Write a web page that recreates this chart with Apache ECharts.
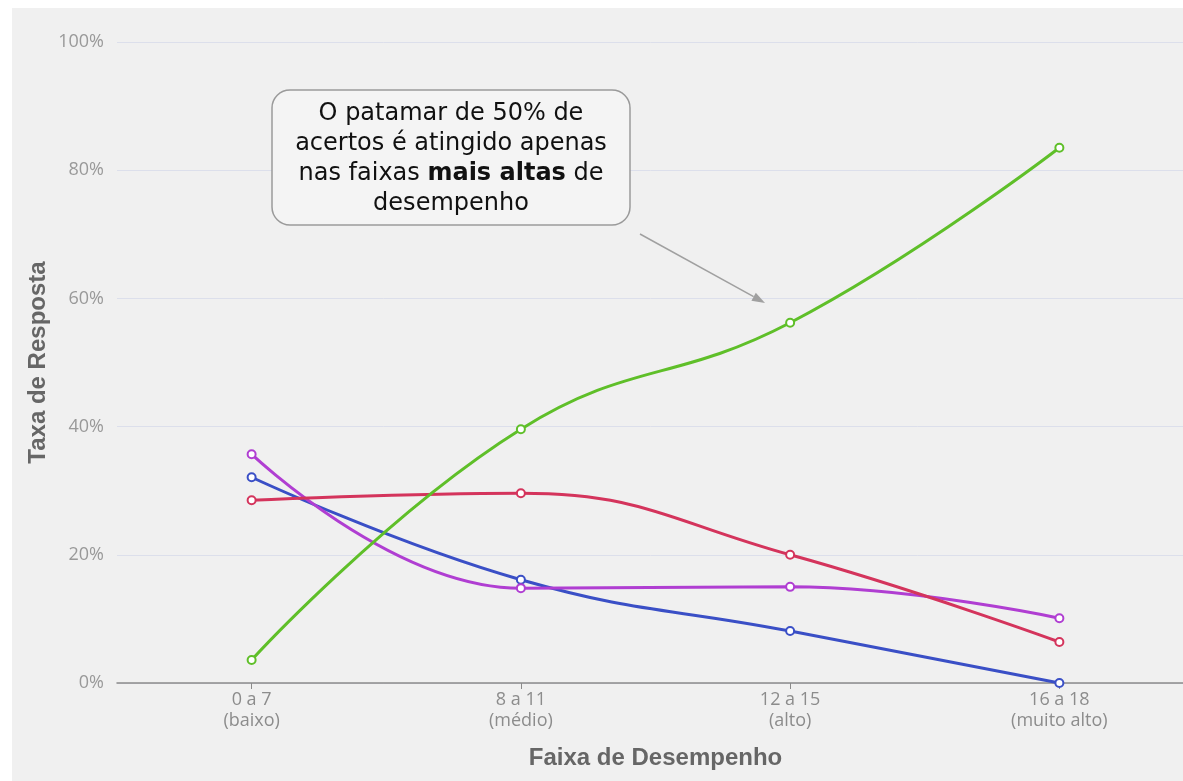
<!DOCTYPE html>
<html>
<head>
<meta charset="utf-8">
<script src="https://cdn.jsdelivr.net/npm/echarts@6/dist/echarts.min.js"></script>
<style>
  html, body { margin: 0; padding: 0; background: #ffffff; }
  #chart { position: absolute; left: 12px; top: 8px; width: 1171px; height: 773px; background: #f0f0f0; }
</style>
</head>
<body>
<div id="chart"></div>
<script>
// Faixas de desempenho (eixo X)
const categories = ['0 a 7\n(baixo)', '8 a 11\n(médio)', '12 a 15\n(alto)', '16 a 18\n(muito alto)'];

// Taxa de resposta por alternativa (%)
const serieVerde = [3.6, 39.6, 56.2, 83.5];
const serieVermelha = [28.5, 29.6, 20.0, 6.4];
const serieAzul = [32.1, 16.1, 8.1, 0.0];
const serieRoxa = [35.7, 14.8, 15.0, 10.1];

// Marcas do eixo Y
const yTicks = [0, 20, 40, 60, 80, 100];

const yTitle = 'Taxa de Resposta';
const xTitle = 'Faixa de Desempenho';

const chart = echarts.init(document.getElementById('chart'), null, { renderer: 'canvas' });

function lineSeries(data, color) {
  return {
    type: 'line',
    data: data,
    smooth: 0.45,
    symbol: 'emptyCircle',
    symbolSize: 8,
    lineStyle: { color: color, width: 3 },
    itemStyle: { color: color, borderWidth: 2.2 },
    emphasis: { disabled: true },
    z: 3
  };
}

// Caixa de anotação e seta
const box = { x: 260, y: 82, w: 358, h: 135 };
const arrowFrom = [628, 226];
const arrowTo = [753, 295];
const dx = arrowTo[0] - arrowFrom[0], dy = arrowTo[1] - arrowFrom[1];
const len = Math.sqrt(dx * dx + dy * dy);
const ux = dx / len, uy = dy / len;
const headL = 13, headW = 4.5;
const bx = arrowTo[0] - ux * headL, by = arrowTo[1] - uy * headL;
const head = [
  [arrowTo[0], arrowTo[1]],
  [bx - uy * headW, by + ux * headW],
  [bx + uy * headW, by - ux * headW]
];

const labelFont = '"Open Sans", "Noto Sans", sans-serif';
const titleFont = '"Liberation Sans", Arial, sans-serif';

chart.setOption({
  animation: false,
  backgroundColor: 'transparent',
  grid: { left: 105, width: 1077, top: 34, bottom: 98, containLabel: false, outerBoundsMode: 'none' },
  xAxis: {
    type: 'category',
    data: categories,
    boundaryGap: true,
    name: xTitle,
    nameLocation: 'middle',
    nameGap: 63,
    nameTextStyle: { color: '#666666', fontSize: 24, fontWeight: 'bold', fontFamily: titleFont },
    axisLine: { show: true, lineStyle: { color: '#8a8a8a', width: 1.5 } },
    axisTick: { show: true, alignWithLabel: true, length: 6, lineStyle: { color: '#8a8a8a' } },
    axisLabel: { color: '#8c8c8c', fontSize: 18, lineHeight: 21, margin: 6, fontFamily: labelFont },
    splitLine: { show: false }
  },
  yAxis: {
    type: 'value',
    min: 0,
    max: 100,
    interval: 20,
    name: yTitle,
    nameLocation: 'middle',
    nameGap: 67,
    nameMoveOverlap: false,
    nameRotate: 90,
    nameTextStyle: { color: '#666666', fontSize: 24, fontWeight: 'bold', fontFamily: titleFont },
    axisLine: { show: false },
    axisTick: { show: false },
    axisLabel: {
      color: '#999999', fontSize: 18, margin: 13, fontFamily: labelFont,
      formatter: function (v) { return yTicks.indexOf(v) >= 0 ? v + '%' : ''; }
    },
    splitLine: { show: true, lineStyle: { color: '#dcdfeb', width: 1 } }
  },
  series: [
    lineSeries(serieAzul, '#3a4fc6'),
    lineSeries(serieRoxa, '#b03ed2'),
    lineSeries(serieVermelha, '#d4345c'),
    lineSeries(serieVerde, '#5fbf29')
  ],
  graphic: [
    {
      type: 'rect',
      shape: { x: box.x, y: box.y, width: box.w, height: box.h, r: 18 },
      style: { fill: '#f4f4f4', stroke: '#9a9a9a', lineWidth: 1.5 },
      z: 10
    },
    {
      type: 'text',
      x: box.x + box.w / 2,
      y: box.y + box.h / 2 + 1,
      style: {
        text: 'O patamar de 50% de\nacertos é atingido apenas\nnas faixas {b|mais altas} de\ndesempenho',
        align: 'center',
        verticalAlign: 'middle',
        fill: '#111111',
        font: '24px "DejaVu Sans", sans-serif',
        lineHeight: 30,
        rich: {
          b: { fontWeight: 'bold', fontSize: 24, fontFamily: '"DejaVu Sans", sans-serif', fill: '#111111', lineHeight: 30 }
        }
      },
      z: 11
    },
    {
      type: 'line',
      shape: { x1: arrowFrom[0], y1: arrowFrom[1], x2: bx, y2: by },
      style: { stroke: '#a0a0a0', lineWidth: 1.5 },
      z: 10
    },
    {
      type: 'polygon',
      shape: { points: head },
      style: { fill: '#a0a0a0' },
      z: 10
    }
  ]
});
</script>
</body>
</html>
